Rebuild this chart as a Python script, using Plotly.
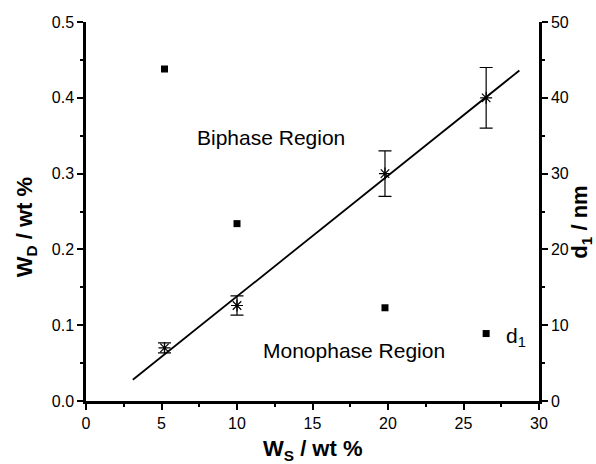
import plotly.graph_objects as go

# Data
ws_star = [5.2, 10.0, 19.8, 26.5]
wd_star = [0.070, 0.126, 0.300, 0.400]
wd_err = [0.0066, 0.0127, 0.030, 0.040]

ws_d1 = [5.2, 10.0, 19.8, 26.5]
d1_vals = [43.8, 23.4, 12.3, 8.9]

fit_x = [3.1, 28.7]
fit_y = [0.028, 0.436]

x_ticks = [0, 5, 10, 15, 20, 25, 30]
y_ticks = [0.0, 0.1, 0.2, 0.3, 0.4, 0.5]
y2_ticks = [0, 10, 20, 30, 40, 50]

FONT = "Liberation Sans, Arial, sans-serif"

fig = go.Figure()

fig.add_trace(go.Scatter(
    x=fit_x, y=fit_y, mode="lines",
    line=dict(color="black", width=1.8), showlegend=False,
))
fig.add_trace(go.Scatter(
    x=ws_star, y=wd_star, mode="markers",
    marker=dict(symbol="asterisk-open", size=10, color="black",
                line=dict(color="black", width=1.2)),
    error_y=dict(type="data", array=wd_err, visible=True,
                 color="black", thickness=1.2, width=6.5),
    showlegend=False,
))
fig.add_trace(go.Scatter(
    x=ws_d1, y=d1_vals, mode="markers", yaxis="y2",
    marker=dict(symbol="square", size=7, color="black"),
    showlegend=False,
))

axis_common = dict(
    showline=True, linecolor="black", linewidth=2.5,
    ticks="outside", ticklen=6, tickwidth=2, tickcolor="black",
    showgrid=False, zeroline=False,
    tickfont=dict(family=FONT, size=16, color="black"),
)

fig.update_layout(
    width=596, height=464,
    margin=dict(l=86, r=57, t=22, b=63),
    paper_bgcolor="white", plot_bgcolor="white",
    font=dict(family=FONT, color="black"),
    xaxis=dict(range=[0, 30], tickvals=x_ticks,
               minor=dict(ticks="outside", ticklen=3, tickwidth=2,
                          dtick=2.5, tick0=0, tickcolor="black"),
               **axis_common),
    yaxis=dict(range=[0, 0.5], tickvals=y_ticks, tickformat=".1f",
               minor=dict(ticks="outside", ticklen=3, tickwidth=2,
                          dtick=0.05, tick0=0, tickcolor="black"),
               **axis_common),
    yaxis2=dict(range=[0, 50], tickvals=y2_ticks, overlaying="y", side="right",
                minor=dict(ticks="outside", ticklen=3, tickwidth=2,
                           dtick=5, tick0=0, tickcolor="black"),
                **axis_common),
)

title_font = dict(family=FONT, size=22, color="black")
fig.add_annotation(text="<b>W<sub>D</sub> / wt %</b>", xref="paper", yref="paper",
                   x=-0.132, y=0.459, textangle=-90, showarrow=False,
                   font=title_font, xanchor="center", yanchor="middle")
fig.add_annotation(text="<b>d<sub>1</sub> / nm</b>", xref="paper", yref="paper",
                   x=1.094, y=0.472, textangle=-90, showarrow=False,
                   font=title_font, xanchor="center", yanchor="middle")
fig.add_annotation(text="<b>W<sub>S</sub> / wt %</b>", xref="paper", yref="paper",
                   x=0.499, y=-0.128, showarrow=False,
                   font=title_font, xanchor="center", yanchor="middle")

label_font = dict(family=FONT, size=21, color="black")
fig.add_annotation(text="Biphase Region", x=12.28, y=0.347, xref="x", yref="y",
                   showarrow=False, font=label_font)
fig.add_annotation(text="Monophase Region", x=17.78, y=0.067, xref="x", yref="y",
                   showarrow=False, font=label_font)
fig.add_annotation(text="d<sub>1</sub>", x=27.65, y=0.085, xref="x", yref="y",
                   showarrow=False, font=label_font, xanchor="left")

fig.write_html("out.html")
